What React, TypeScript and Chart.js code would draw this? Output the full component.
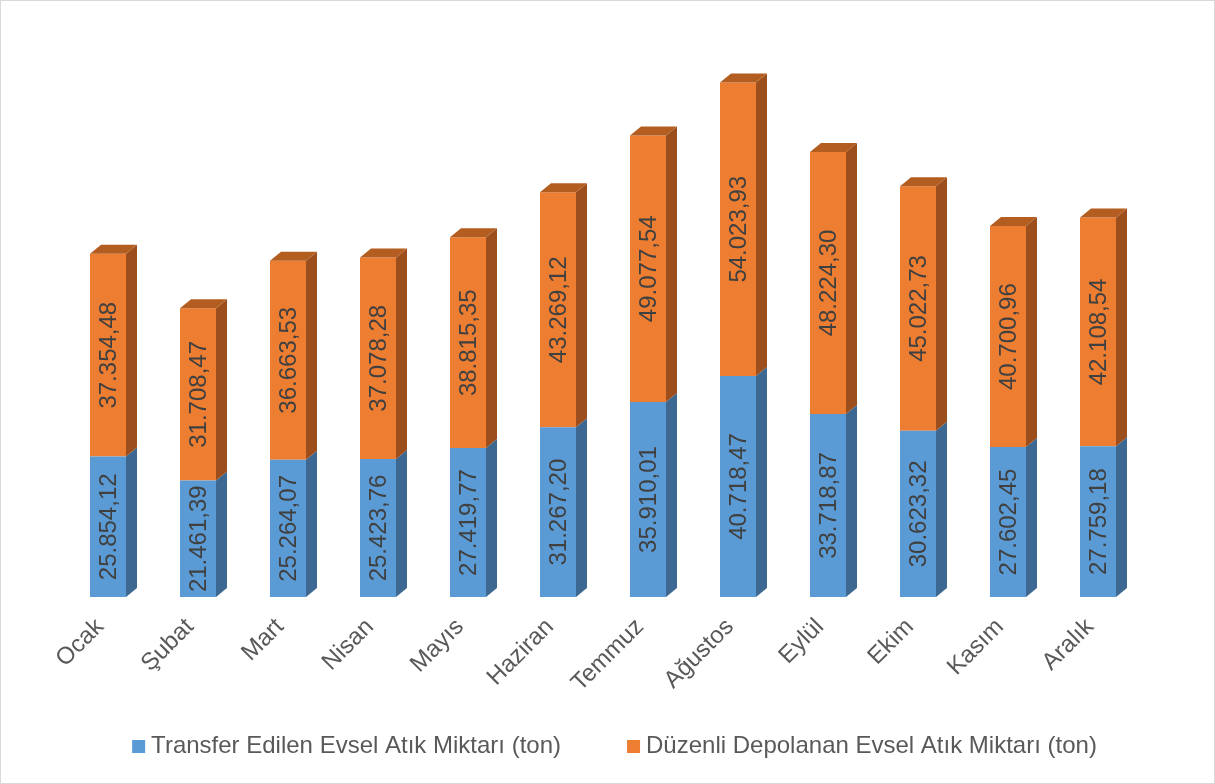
import { useEffect, useRef } from "react";
import { Chart, registerables } from "chart.js";

Chart.register(...registerables);

const months = ["Ocak", "Şubat", "Mart", "Nisan", "Mayıs", "Haziran", "Temmuz", "Ağustos", "Eylül", "Ekim", "Kasım", "Aralık"];
const transferred = [25854.12, 21461.39, 25264.07, 25423.76, 27419.77, 31267.2, 35910.01, 40718.47, 33718.87, 30623.32, 27602.45, 27759.18];
const landfilled = [37354.48, 31708.47, 36663.53, 37078.28, 38815.35, 43269.12, 49077.54, 54023.93, 48224.3, 45022.73, 40700.96, 42108.54];
const seriesNames = ["Transfer Edilen Evsel Atık Miktarı (ton)", "Düzenli Depolanan Evsel Atık Miktarı (ton)"];

const frontColors = ["#5B9BD5", "#ED7D31"];
const sideColors = ["#3C6891", "#9C4F1D"];
const topColors = ["#4A80B2", "#B35E20"];
const DX = 11;
const DY = 9;
const FONT = "'Liberation Sans', Arial, sans-serif";
const LEGEND_BOX_W = 46;
const LEGEND_PAD = 27;

function fmt(v: number): string {
  const [i, d] = v.toFixed(2).split(".");
  const withDots = i.replace(/\B(?=(\d{3})+(?!\d))/g, ".");
  return withDots + "," + d;
}

// swatch image centred at x + LEGEND_BOX_W/2; square sits just before the text
function swatch(color: string) {
  const b = LEGEND_BOX_W;
  const w = b + 14;
  const c = document.createElement("canvas");
  c.width = w;
  c.height = 13;
  const g = c.getContext("2d")!;
  g.fillStyle = color;
  const sqLeft = b - 7 - (b / 2 - w / 2);
  g.fillRect(sqLeft, 0, 13, 13);
  return c;
}

const bar3d = {
  id: "bar3d",
  afterDatasetsDraw(chart: any) {
    const ctx = chart.ctx;
    const n = chart.data.datasets.length;
    chart.data.datasets.forEach((_ds: any, di: number) => {
      const meta = chart.getDatasetMeta(di);
      meta.data.forEach((el: any) => {
        const { x, y, base, width } = el.getProps(["x", "y", "base", "width"], true);
        const left = x - width / 2;
        const right = x + width / 2;
        ctx.save();
        ctx.fillStyle = sideColors[di];
        ctx.beginPath();
        ctx.moveTo(right, base);
        ctx.lineTo(right + DX, base - DY);
        ctx.lineTo(right + DX, y - DY);
        ctx.lineTo(right, y);
        ctx.closePath();
        ctx.fill();
        if (di === n - 1) {
          ctx.fillStyle = topColors[di];
          ctx.beginPath();
          ctx.moveTo(left, y);
          ctx.lineTo(left + DX, y - DY);
          ctx.lineTo(right + DX, y - DY);
          ctx.lineTo(right, y);
          ctx.closePath();
          ctx.fill();
        }
        ctx.restore();
      });
    });
    chart.data.datasets.forEach((ds: any, di: number) => {
      const meta = chart.getDatasetMeta(di);
      meta.data.forEach((el: any, i: number) => {
        const { x, y, base } = el.getProps(["x", "y", "base"], true);
        ctx.save();
        ctx.translate(x, (y + base) / 2);
        ctx.rotate(-Math.PI / 2);
        ctx.fillStyle = "#404040";
        ctx.font = `24px ${FONT}`;
        ctx.textAlign = "center";
        ctx.textBaseline = "middle";
        ctx.fillText(fmt(ds.data[i]), 0, 1);
        ctx.restore();
      });
    });
  },
};

export default function App() {
  const ref = useRef<HTMLCanvasElement | null>(null);
  useEffect(() => {
    document.body.style.margin = "0";
    Chart.defaults.font.family = FONT;
    const swatches = frontColors.map(swatch);
    const chart = new Chart(ref.current!, {
      type: "bar",
      data: {
        labels: months,
        datasets: [
          { label: seriesNames[0], data: transferred, backgroundColor: frontColors[0], barPercentage: 0.4, categoryPercentage: 1 },
          { label: seriesNames[1], data: landfilled, backgroundColor: frontColors[1], barPercentage: 0.4, categoryPercentage: 1 },
        ],
      },
      options: {
        animation: false,
        responsive: false,
        layout: { padding: { top: 53, left: 0, right: 25, bottom: 15 } },
        scales: {
          x: {
            stacked: true,
            grid: { display: false, drawTicks: false },
            border: { display: false },
            ticks: { autoSkip: false, maxRotation: 45, minRotation: 45, color: "#595959", font: { size: 24 }, padding: 16, labelOffset: -8 },
            afterFit(s: any) { s.height = 137 - LEGEND_PAD; },
          },
          y: {
            stacked: true,
            min: 0,
            max: 100000,
            grid: { display: false },
            border: { display: false },
            ticks: { display: false },
            afterFit(s: any) { s.width = 62; },
          },
          y2: {
            position: "right",
            min: 0,
            max: 1,
            grid: { display: false },
            border: { display: false },
            ticks: { display: false },
            afterFit(s: any) { s.width = 46; },
          },
        },
        plugins: {
          tooltip: { enabled: false },
          legend: {
            position: "bottom",
            labels: {
              usePointStyle: true,
              pointStyleWidth: LEGEND_BOX_W,
              padding: LEGEND_PAD,
              color: "#595959",
              font: { size: 24 },
              generateLabels: (c: any) =>
                (Chart.defaults.plugins.legend.labels.generateLabels as any)(c).map((l: any, i: number) => ({ ...l, pointStyle: swatches[i] })),
            },
          },
        },
      },
      plugins: [bar3d],
    } as any);
    return () => chart.destroy();
  }, []);
  return (
    <div style={{ position: "fixed", left: 0, top: 0, width: 1215, height: 784, boxSizing: "border-box", border: "1px solid #d9d9d9", background: "#fff" }}>
      <canvas ref={ref} width={1213} height={782} style={{ display: "block", width: 1213, height: 782 }} />
    </div>
  );
}
